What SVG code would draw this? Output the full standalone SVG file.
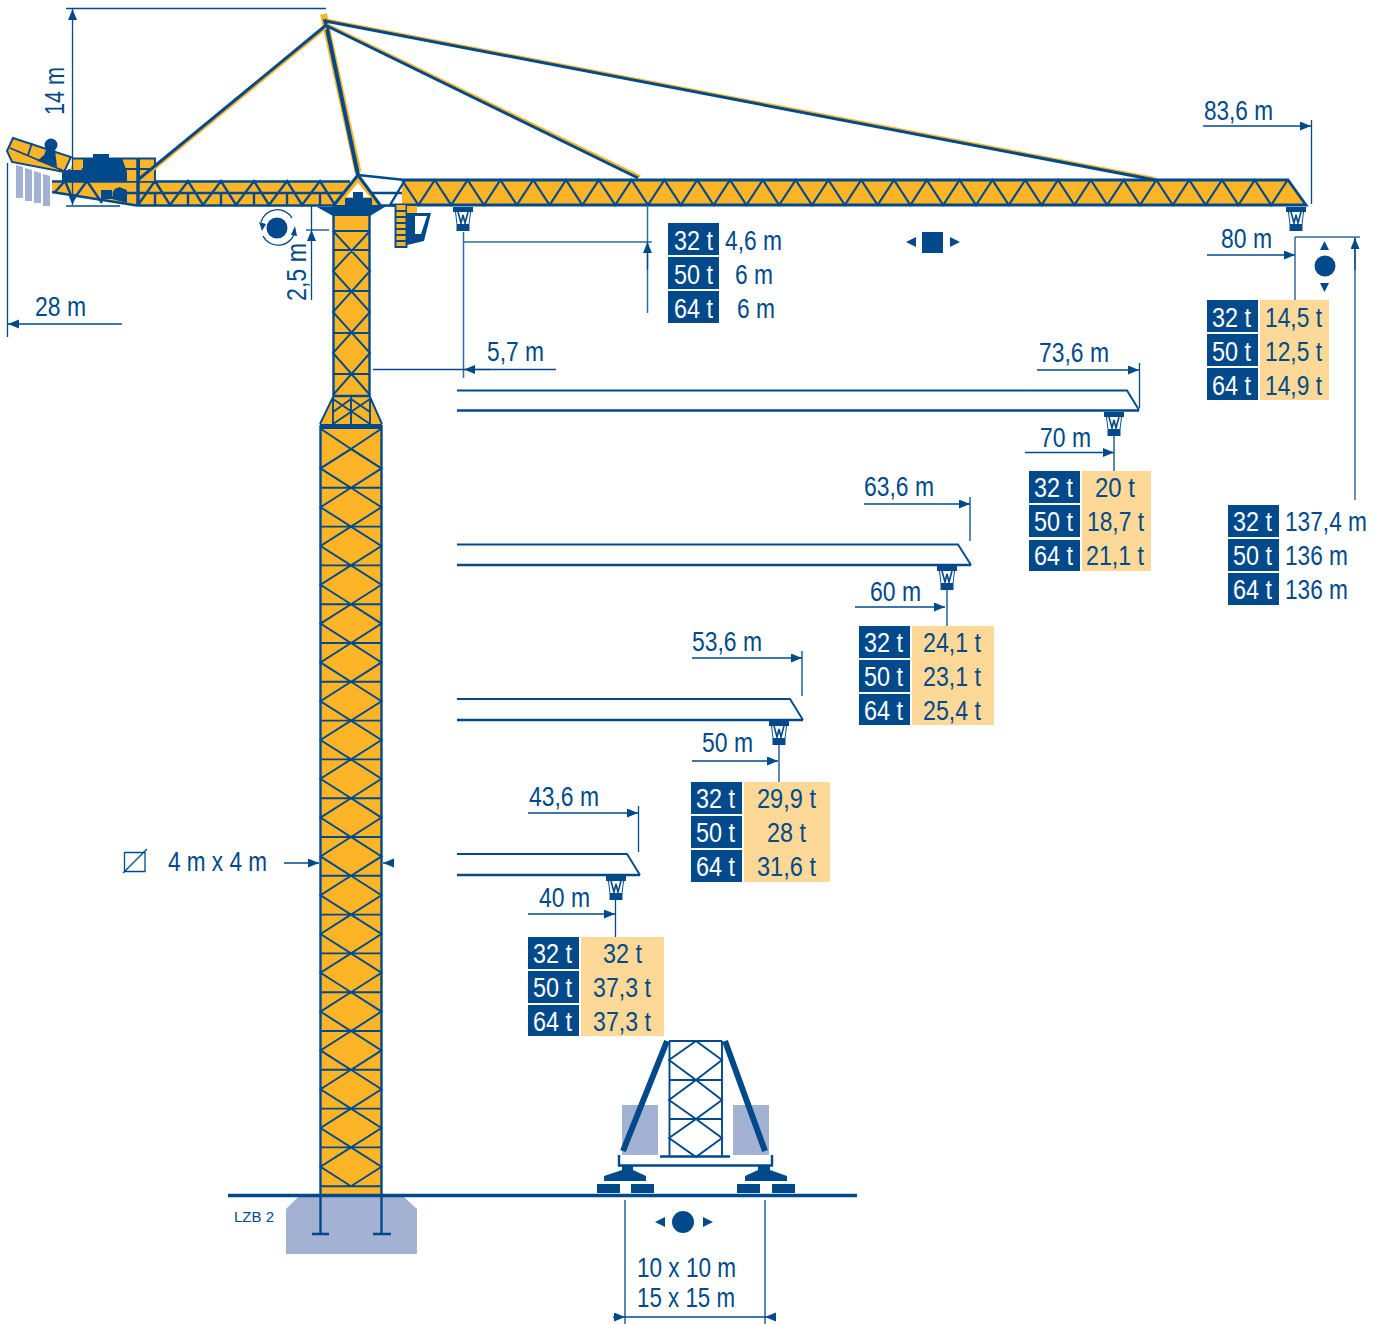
<svg xmlns="http://www.w3.org/2000/svg" width="1387" height="1324" viewBox="0 0 1387 1324">
<style>
text{font-family:"Liberation Sans",Arial,sans-serif;font-size:27px;fill:#004a8c}
text:not([transform]){transform:translateY(-0.5px)}
text.w{fill:#fff}
text.s{font-size:15px}
.n{fill:#004a8c}
.y{fill:#fdb527}
.l{fill:#fed896}
.g{fill:#a3b1d2}
.dim{fill:none;stroke:#004a8c;stroke-width:1.3}
.dl{fill:none;stroke:#2f6ca3;stroke-width:1.5}
.tr{fill:none;stroke:#004a8c;stroke-width:2.4}
.thin{fill:none;stroke:#004a8c;stroke-width:1.9}
.tie{fill:none;stroke:#004a8c;stroke-width:3}
.tieY{fill:none;stroke:#fdb527;stroke-width:3}
.ah{marker-end:url(#a)}
</style>
<defs>
<marker id="a" markerUnits="userSpaceOnUse" markerWidth="12" markerHeight="10" refX="11" refY="4.5" orient="auto"><path d="M0 0L11 4.5L0 9Z" fill="#004a8c"/></marker>
<g id="cell"><path class="thin" d="M351 0L320.5 19.4L351 38.8L381.5 19.4ZM320 38.8H382"/></g>
<g id="trolley">
<path class="n" d="M-10 0H10V5H8L6.5 17V24H-6.5V17L-8 5H-10Z"/>
<path fill="#fff" d="M-7 5H7L5.6 17H-5.6Z"/>
<path fill="none" stroke="#004a8c" stroke-width="1.6" d="M-5 5L-2 16L0 8L2 16L5 5"/>
</g>
</defs>

<g id="foundation">
<path class="g" d="M286 1209L298 1197H404L417 1209V1254H286Z"/>
<text class="s" x="234" y="1222" textLength="40" lengthAdjust="spacingAndGlyphs">LZB 2</text>
</g>

<g id="tower">
<rect class="y" x="320" y="425" width="62" height="770"/>
<path class="thin" d="M321 429L351 449L321 468M381 429L351 449L381 468"/>
<use href="#cell" y="449"/><use href="#cell" y="487.8"/><use href="#cell" y="526.6"/><use href="#cell" y="565.4"/><use href="#cell" y="604.2"/><use href="#cell" y="643"/><use href="#cell" y="681.8"/><use href="#cell" y="720.6"/><use href="#cell" y="759.4"/><use href="#cell" y="798.2"/><use href="#cell" y="837"/><use href="#cell" y="875.8"/><use href="#cell" y="914.6"/><use href="#cell" y="953.4"/><use href="#cell" y="992.2"/><use href="#cell" y="1031"/><use href="#cell" y="1069.8"/><use href="#cell" y="1108.6"/><use href="#cell" y="1147.4"/>
<path class="tr" d="M320.5 425V1196M381.5 425V1196"/>
<rect class="n" x="320" y="423" width="62" height="6"/>
<path class="y" d="M333 397H370L382 424H320Z"/>
<path class="thin" d="M333 397L320 424M370 397L382 424M333 397V424M351 397V424M370 397V424M333 399L370 424M370 399L333 424M351 399L333 412M351 399L370 412"/>
<rect class="y" x="333" y="212" width="37" height="185"/>
<path class="thin" d="M333 231H370M333 231L370 271L333 312L370 353L333 395M370 231L333 271L370 312L333 353L370 395M333 250H370M333 291H370M333 333H370M333 374H370"/>
<path class="tr" d="M333.5 212V397M369.5 212V397M333 396H370"/>
</g>

<g id="counterjib">
<path class="y" d="M52 181H350V205H137L52 192Z"/>
<path class="tr" d="M52 181.5H350M52 192L137 205.5H405M125 193H405"/>
<path class="tr" d="M138 205L155 181L170 205L188 181L203 205L221 181L236 205L254 181L269 205L287 181L302 205L320 181L335 205M155 193V205M188 193V205M221 193V205M254 193V205M287 193V205M320 193V205"/>
<path class="tr" d="M55 192L65 181L73 200L87 181L102 203"/>
<rect class="y" x="72" y="158" width="83" height="23"/>
<path class="thin" d="M72 158.5H155V181M139 158V181M122 169H155M72 170H85"/>
<path class="n" d="M83 158H93V154H109V158H122L127 172V181H62V172L72 168H83Z"/>
<path class="y" d="M70 170A6 6 0 0 1 82 170H70Z"/>
<path class="tr" style="stroke-width:3.5" d="M138 158V206"/>
<path class="n" d="M101 190H112V196H119V187L127 190V203L112 199H101Z"/>
<circle class="n" cx="119" cy="194" r="6.5"/>
</g>

<g id="platform">
<path class="g" d="M16 165L23 167V198H16ZM25 168L32 170V201H25ZM34 171L41 173V203H34ZM43 174L50 176V206H43Z"/>
<path class="y" d="M7 151L13 138L71 157L64 173L12 162Z"/>
<path class="thin" d="M7 151L13 138L71 157L64 172L12 162ZM10 148L64 171M32 143L28 155"/>
<circle class="n" cx="51" cy="145" r="6.5"/>
<path class="n" d="M46 150H55L57 167L37 161L44 155Z"/>
</g>

<g id="mainjib">
<path class="y" d="M402 180H1288L1307 205H402Z"/>
<path class="tr" style="stroke-width:2.2" d="M402 180
l16.4 25l16.4 -25l16.4 25l16.4 -25l16.4 25l16.4 -25l16.4 25l16.4 -25l16.4 25l16.4 -25l16.4 25l16.4 -25l16.4 25l16.4 -25l16.4 25l16.4 -25l16.4 25l16.4 -25
l16.4 25l16.4 -25l16.4 25l16.4 -25l16.4 25l16.4 -25l16.4 25l16.4 -25l16.4 25l16.4 -25l16.4 25l16.4 -25l16.4 25l16.4 -25l16.4 25l16.4 -25l16.4 25l16.4 -25
l16.4 25l16.4 -25l16.4 25l16.4 -25l16.4 25l16.4 -25l16.4 25l16.4 -25l16.4 25l16.4 -25l16.4 25l16.4 -25l16.4 25l16.4 -25l16.4 25l16.4 -25l16.4 25l16.4 -25"/>
<path class="tr" style="stroke-width:2.8" d="M404 180H1288L1306 205H390"/>
</g>

<g id="slewing">
<path class="tr" d="M405 180L390 205"/>
<path class="y" d="M358 175L336 205H380Z"/>
<path fill="#fff" d="M358 183L346 197H370Z"/>
<path class="tie" d="M358 175L334 205M358 175L380 205"/>
<path class="tr" d="M358 175L405 180"/>
<path class="n" d="M317 207H333V205H345V198H353V192H363V198H372V205H388L370 216H333Z"/>
</g>

<g id="cab">
<rect class="y" x="395" y="205" width="12" height="42"/>
<path class="thin" d="M395.500 205V247H406.500V205M395 211H407M395 217H407M395 223H407M395 229H407M395 235H407M395 241H407"/>
<rect class="y" x="407" y="206" width="10" height="7"/>
<path class="n" d="M407 213H431L424 241L407 245Z"/>
<path fill="#fff" d="M415 216H427L421 234H415Z"/>
</g>

<g id="ties">
<path class="tieY" style="stroke-width:7" d="M323.500 14L358 172"/>
<path class="tie" style="stroke-width:4" d="M325 19L358 175"/>
<path class="tieY" d="M326 20L1155 178.500"/>
<path class="tie" d="M325 21L1155 180"/>
<path class="tieY" d="M327 24.500L640 176.500"/>
<path class="tie" d="M325 25L638 178"/>
<path class="tieY" d="M326 27.500L141 179.500"/>
<path class="tie" d="M325 26L139 179"/>
</g>

<g id="trolleys">
<use href="#trolley" x="463" y="207"/>
<use href="#trolley" x="1296" y="207"/>
<use href="#trolley" x="1114" y="412"/>
<use href="#trolley" x="947" y="566"/>
<use href="#trolley" x="779" y="721"/>
<use href="#trolley" x="616" y="876"/>
</g>

<g id="jibs">
<path class="thin" d="M457 390.500H1127L1139 410"/><path class="tr" d="M457 410.500H1139"/>
<path class="thin" d="M457 544.500H958L971 565"/><path class="tr" d="M457 565H971"/>
<path class="thin" d="M457 699H790L803 720"/><path class="tr" d="M457 720H803"/>
<path class="thin" d="M457 854H627L640 875"/><path class="tr" d="M457 875H640"/>
</g>

<g id="mobile-base">
<rect class="g" x="622" y="1105" width="36" height="50"/>
<rect class="g" x="733" y="1105" width="36" height="50"/>
<path class="thin" d="M669 1041H722M669.500 1041V1157M722 1041V1157M669 1080H722M669 1119H722M696 1041L669 1060L696 1080L669 1100L696 1119L669 1138L696 1157L722 1138L696 1119L722 1100L696 1080L722 1060L696 1041"/>
<path class="tr" d="M660 1156.500H730"/>
<path fill="none" stroke="#004a8c" stroke-width="6" d="M667 1041L623 1151M725 1041L765 1151"/>
<path class="tr" d="M619 1155V1165.500H772V1155"/>
<path class="n" d="M622 1165H633V1170L646 1176V1181H604V1176L622 1170ZM758 1165H770V1170L787 1176V1181H745V1176L758 1170Z"/>
<path class="n" d="M597 1184H620V1193H597ZM631 1184H654V1193H631ZM737 1184H760V1193H737ZM772 1184H795V1193H772Z"/>
</g>

<g id="ground"><path fill="none" stroke="#004a8c" stroke-width="3.500" d="M228 1195.500H857"/>
<path class="tr" d="M320.500 1196V1234M381.500 1196V1234M312 1234H329M373 1234H391"/></g>

<g id="connectors">
<path class="dim" d="M66 8.500H326"/>
<path class="dim ah" d="M72.500 100V9"/><path class="dim ah" d="M72.500 100V205"/>
<path class="dim" d="M66 206H120"/>
<path class="dim" d="M7.500 163V337"/><path class="dim ah" d="M122 324H8"/>
<path class="dim" d="M306 230H329"/><path class="dim ah" d="M311.500 300V230"/><path class="dim" d="M311.500 205V230"/>
<path class="dl" d="M463.500 232V378M463 242H652"/>
<path class="dl" d="M647.500 205V313"/><path class="dim ah" d="M647.500 270V242"/>
<path class="dim" d="M373 369.500H556"/><path class="dim ah" d="M490 369.500H464"/>
<path class="dim ah" d="M1203 126H1311"/><path class="dim" d="M1311.500 120V204"/>
<path class="dim ah" d="M1207 255H1295"/><path class="dl" d="M1295 237V300M1295 237H1360"/>
<path class="dl" d="M1355 237V500"/><path class="dim ah" d="M1355 270V238"/>
<path class="dim ah" d="M1037 370H1139"/><path class="dim" d="M1139.500 363V408"/>
<path class="dim ah" d="M1025 452.500H1114"/><path class="dim" d="M1114 435V471"/>
<path class="dim ah" d="M864 504H970"/><path class="dim" d="M970 497V541"/>
<path class="dim ah" d="M855 607H945"/><path class="dim" d="M947 590V626"/>
<path class="dim ah" d="M692 658H802"/><path class="dim" d="M802 651V696"/>
<path class="dim ah" d="M692 761H778"/><path class="dim" d="M779 745V782"/>
<path class="dim ah" d="M528 813H638"/><path class="dim" d="M638.500 806V852"/>
<path class="dim ah" d="M528 914H615"/><path class="dim" d="M615.500 900V937"/>
<path class="dim ah" d="M284 863H319"/><path class="dim ah" d="M393 863H383"/>
<path class="dim" d="M625 1200V1324M765 1200V1324"/>
<path class="dim" d="M625 1317H765"/><path class="dim ah" d="M613 1317H625"/><path class="dim ah" d="M776 1317H765"/>
</g>

<g id="symbols">
<circle class="n" cx="277" cy="228" r="10.500"/>
<path class="dim" d="M261 222A17 17 0 0 1 292 218M263 236A17 17 0 0 0 295 230"/>
<path class="n" d="M259 222L266 224L262 231ZM295 226L291 235L297 236Z"/>
<circle class="n" cx="1325" cy="266" r="10.500"/>
<path class="n" d="M1324.500 241L1329 250H1320ZM1324.500 292L1320 283H1329Z"/>
<rect class="n" x="922" y="232" width="21" height="21"/>
<path class="n" d="M906 242L916 237V247ZM960 242L950 237V247Z"/>
<circle class="n" cx="683" cy="1222" r="11"/>
<path class="n" d="M655 1222L665 1217V1227ZM713 1222L703 1217V1227Z"/>
<path class="dim" d="M124.500 852.500H145V871.500H124.500ZM123 873L147 849"/>
</g>

<g id="labels">
<text transform="translate(64,115) rotate(-90)" textLength="48" lengthAdjust="spacingAndGlyphs">14 m</text>
<text x="35" y="316" textLength="51" lengthAdjust="spacingAndGlyphs">28 m</text>
<text transform="translate(306,301) rotate(-90)" textLength="58" lengthAdjust="spacingAndGlyphs">2,5 m</text>
<text x="487" y="361" textLength="57" lengthAdjust="spacingAndGlyphs">5,7 m</text>
<text x="1204" y="120" textLength="69" lengthAdjust="spacingAndGlyphs">83,6 m</text>
<text x="1221" y="248" textLength="51" lengthAdjust="spacingAndGlyphs">80 m</text>
<text x="1039" y="362" textLength="70" lengthAdjust="spacingAndGlyphs">73,6 m</text>
<text x="1040" y="447" textLength="51" lengthAdjust="spacingAndGlyphs">70 m</text>
<text x="864" y="496" textLength="70" lengthAdjust="spacingAndGlyphs">63,6 m</text>
<text x="870" y="601" textLength="51" lengthAdjust="spacingAndGlyphs">60 m</text>
<text x="692" y="651" textLength="70" lengthAdjust="spacingAndGlyphs">53,6 m</text>
<text x="702" y="752" textLength="51" lengthAdjust="spacingAndGlyphs">50 m</text>
<text x="529" y="806" textLength="70" lengthAdjust="spacingAndGlyphs">43,6 m</text>
<text x="539" y="907" textLength="51" lengthAdjust="spacingAndGlyphs">40 m</text>
<text x="168" y="871" textLength="99" lengthAdjust="spacingAndGlyphs">4 m x 4 m</text>
<text x="637" y="1277" textLength="99" lengthAdjust="spacingAndGlyphs">10 x 10 m</text>
<text x="637" y="1307" textLength="98" lengthAdjust="spacingAndGlyphs">15 x 15 m</text>
</g>

<g id="table-jib-min">
<path class="n" d="M668 223H719V255H668ZM668 257H719V289H668ZM668 291H719V323H668Z"/>
<text class="w" x="674" y="250" textLength="39" lengthAdjust="spacingAndGlyphs">32 t</text>
<text class="w" x="674" y="284" textLength="39" lengthAdjust="spacingAndGlyphs">50 t</text>
<text class="w" x="674" y="318" textLength="39" lengthAdjust="spacingAndGlyphs">64 t</text>
<text x="725" y="250" textLength="57" lengthAdjust="spacingAndGlyphs">4,6 m</text>
<text x="735" y="284" textLength="38" lengthAdjust="spacingAndGlyphs">6 m</text>
<text x="737" y="318" textLength="38" lengthAdjust="spacingAndGlyphs">6 m</text>
</g>

<g id="table-height">
<path class="n" d="M1228 505H1279V537H1228ZM1228 539H1279V571H1228ZM1228 573H1279V605H1228Z"/>
<text class="w" x="1233" y="531" textLength="39" lengthAdjust="spacingAndGlyphs">32 t</text>
<text class="w" x="1233" y="565" textLength="39" lengthAdjust="spacingAndGlyphs">50 t</text>
<text class="w" x="1233" y="599" textLength="39" lengthAdjust="spacingAndGlyphs">64 t</text>
<text x="1285" y="531" textLength="82" lengthAdjust="spacingAndGlyphs">137,4 m</text>
<text x="1285" y="565" textLength="63" lengthAdjust="spacingAndGlyphs">136 m</text>
<text x="1285" y="599" textLength="63" lengthAdjust="spacingAndGlyphs">136 m</text>
</g>

<g id="table-80">
<path class="n" d="M1207 300H1258V332H1207ZM1207 334H1258V366H1207ZM1207 368H1258V400H1207Z"/>
<rect class="l" x="1260" y="300" width="69" height="100"/>
<text class="w" x="1212" y="327" textLength="39" lengthAdjust="spacingAndGlyphs">32 t</text>
<text class="w" x="1212" y="361" textLength="39" lengthAdjust="spacingAndGlyphs">50 t</text>
<text class="w" x="1212" y="395" textLength="39" lengthAdjust="spacingAndGlyphs">64 t</text>
<text x="1265" y="327" textLength="57" lengthAdjust="spacingAndGlyphs">14,5 t</text>
<text x="1265" y="361" textLength="57" lengthAdjust="spacingAndGlyphs">12,5 t</text>
<text x="1265" y="395" textLength="57" lengthAdjust="spacingAndGlyphs">14,9 t</text>
</g>

<g id="table-70">
<path class="n" d="M1029 471H1080V503H1029ZM1029 505H1080V537H1029ZM1029 540H1080V571H1029Z"/>
<rect class="l" x="1082" y="471" width="69" height="100"/>
<text class="w" x="1034" y="497" textLength="39" lengthAdjust="spacingAndGlyphs">32 t</text>
<text class="w" x="1034" y="531" textLength="39" lengthAdjust="spacingAndGlyphs">50 t</text>
<text class="w" x="1034" y="565" textLength="39" lengthAdjust="spacingAndGlyphs">64 t</text>
<text x="1095" y="497" textLength="40" lengthAdjust="spacingAndGlyphs">20 t</text>
<text x="1087" y="531" textLength="57" lengthAdjust="spacingAndGlyphs">18,7 t</text>
<text x="1086" y="565" textLength="58" lengthAdjust="spacingAndGlyphs">21,1 t</text>
</g>

<g id="table-60">
<path class="n" d="M859 626H910V658H859ZM859 660H910V692H859ZM859 694H910V725H859Z"/>
<rect class="l" x="912" y="626" width="82" height="99"/>
<text class="w" x="864" y="652" textLength="39" lengthAdjust="spacingAndGlyphs">32 t</text>
<text class="w" x="864" y="686" textLength="39" lengthAdjust="spacingAndGlyphs">50 t</text>
<text class="w" x="864" y="720" textLength="39" lengthAdjust="spacingAndGlyphs">64 t</text>
<text x="923" y="652" textLength="58" lengthAdjust="spacingAndGlyphs">24,1 t</text>
<text x="923" y="686" textLength="58" lengthAdjust="spacingAndGlyphs">23,1 t</text>
<text x="923" y="720" textLength="58" lengthAdjust="spacingAndGlyphs">25,4 t</text>
</g>

<g id="table-50">
<path class="n" d="M691 782H742V814H691ZM691 816H742V848H691ZM691 850H742V882H691Z"/>
<rect class="l" x="744" y="782" width="86" height="100"/>
<text class="w" x="696" y="808" textLength="39" lengthAdjust="spacingAndGlyphs">32 t</text>
<text class="w" x="696" y="842" textLength="39" lengthAdjust="spacingAndGlyphs">50 t</text>
<text class="w" x="696" y="876" textLength="39" lengthAdjust="spacingAndGlyphs">64 t</text>
<text x="757" y="808" textLength="59" lengthAdjust="spacingAndGlyphs">29,9 t</text>
<text x="767" y="842" textLength="39" lengthAdjust="spacingAndGlyphs">28 t</text>
<text x="757" y="876" textLength="59" lengthAdjust="spacingAndGlyphs">31,6 t</text>
</g>

<g id="table-40">
<path class="n" d="M528 937H579V969H528ZM528 971H579V1003H528ZM528 1005H579V1036H528Z"/>
<rect class="l" x="581" y="937" width="83" height="99"/>
<text class="w" x="533" y="963" textLength="39" lengthAdjust="spacingAndGlyphs">32 t</text>
<text class="w" x="533" y="997" textLength="39" lengthAdjust="spacingAndGlyphs">50 t</text>
<text class="w" x="533" y="1031" textLength="39" lengthAdjust="spacingAndGlyphs">64 t</text>
<text x="603" y="963" textLength="39" lengthAdjust="spacingAndGlyphs">32 t</text>
<text x="593" y="997" textLength="58" lengthAdjust="spacingAndGlyphs">37,3 t</text>
<text x="593" y="1031" textLength="58" lengthAdjust="spacingAndGlyphs">37,3 t</text>
</g>
</svg>
